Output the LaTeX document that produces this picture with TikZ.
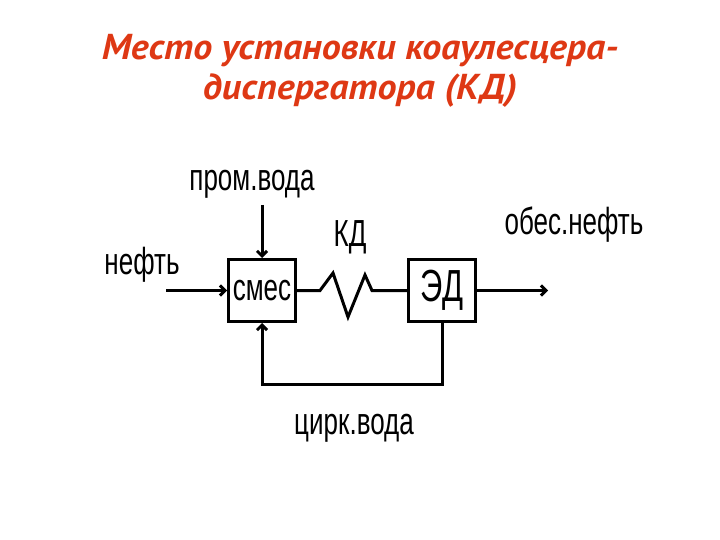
\documentclass[tikz,border=0pt]{standalone}
\usepackage{fontspec}
\setmainfont{Liberation Sans}
\newfontfamily\titlefont{PT Sans}
\usetikzlibrary{arrows.meta,positioning}
\definecolor{titlered}{RGB}{222,56,20}
\newcommand{\tall}[1]{\scalebox{1}[1.45]{#1}}
\tikzset{
  block/.style={draw,line width=3pt,minimum width=67pt,minimum height=62pt,inner sep=0pt},
  flow/.style={line width=3pt,-{Straight Barb[length=5pt,width=10pt]}},
  lbl/.style={font=\fontsize{26}{26}\selectfont,inner sep=0pt}
}
\begin{document}
\begin{tikzpicture}[x=1pt,y=-1pt]
  \useasboundingbox (0,0) rectangle (720,540);
  % title
  \node[font=\titlefont\fontsize{36}{40}\selectfont\bfseries\itshape,text=titlered,align=center] (title) at (360,71)
    {\scalebox{1.055}[1]{Место установки коаулесцера-}\\\scalebox{1.055}[1]{диспергатора (КД)}};
  % blocks
  \node[block,lbl] (mix) at (262,290.5) {\tall{смес}};
  \node[block,lbl,font=\fontsize{31}{31}\selectfont] (ed) at (442,290.5) {\tall{ЭД}};
  % labels
  \node[lbl] (water) at (252,184) {\tall{пром.вода}};
  \node[lbl] (oil) at (142,265) {\tall{нефть}};
  \node[lbl] (kd) at (350,237) {\tall{КД}};
  \node[lbl] (clean) at (574,225) {\tall{обес.нефть}};
  \node[lbl] (circ) at (354,428) {\tall{цирк.вода}};
  % free ends
  \coordinate (oilin) at (166,290.5);
  \coordinate (waterin) at (262,205);
  \coordinate (oilout) at (548,290.5);
  \coordinate (loop) at (350,384);
  % connectors
  \draw[flow] (oilin) -- (mix.west);
  \draw[flow] (waterin) -- (mix.north);
  \draw[flow] (ed.east) -- (oilout);
  \draw[flow] (ed.south) |- (loop) -| (mix.south);
  \draw[line width=3pt] (mix.east) -- (320,290.5) -- (333,273) -- (348,317) -- (365,275) -- (372,290.5) -- (ed.west);
\end{tikzpicture}
\end{document}
